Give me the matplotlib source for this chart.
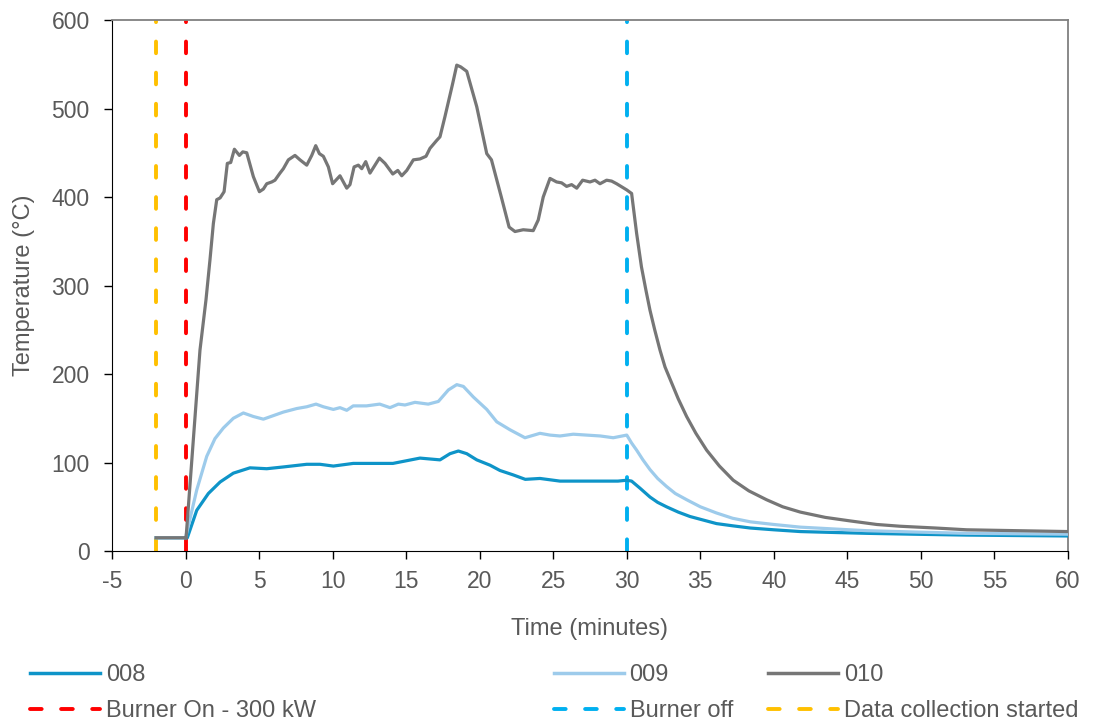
import matplotlib
matplotlib.use("Agg")
import matplotlib.pyplot as plt
from matplotlib.lines import Line2D

plt.rcParams['font.family'] = ['Liberation Sans', 'DejaVu Sans']
plt.rcParams['axes.unicode_minus'] = False

# 008 series (time in minutes, temperature in C)
t_008 = [-2, 0, 0.12, 0.76, 1.55, 2.35, 3.25, 4.38, 5.52, 6.65, 8.24, 9.14, 10.05, 11.4,
         13.45, 14.1, 15.94, 17.3, 17.98, 18.55, 19.12, 19.8, 20.7, 21.38, 22.28, 23.1,
         24.1, 25.46, 27.04, 28.2, 29.4, 30.0, 30.33, 30.9, 31.58, 32.1, 32.7, 33.5,
         34.3, 35.2, 36.1, 37.2, 38.4, 40.0, 41.8, 44.0, 46.3, 49.5, 53.1, 56.5, 60]
T_008 = [15, 15, 15, 46, 65, 78, 88, 94, 93, 95, 98, 98, 96, 99,
         99, 99, 105, 103, 110, 113, 110, 103, 97, 91, 86, 81,
         82, 79, 79, 79, 79, 80, 79, 71, 61, 55, 50, 44,
         39, 35, 31, 28.5, 26, 24, 22, 21, 20, 19, 18, 17.5, 17]

# 009 series
t_009 = [-2, 0, 0.76, 1.44, 2.0, 2.57, 3.25, 3.93, 4.61, 5.29, 5.97, 6.65, 7.56, 8.24,
         8.87, 9.37, 10.05, 10.5, 10.96, 11.4, 12.3, 13.2, 13.9, 14.47, 14.92, 15.6,
         16.5, 17.19, 17.87, 18.44, 18.89, 19.57, 20.48, 21.16, 22.06, 23.08, 24.1,
         24.78, 25.46, 26.36, 27.27, 28.2, 29.08, 30.0, 30.33, 30.67, 31.1, 31.58,
         32.1, 32.7, 33.3, 34.07, 35.0, 36.1, 37.2, 38.4, 40.0, 41.8, 44.0, 46.3,
         49.5, 53.1, 56.5, 60]
T_009 = [15, 15, 69, 107, 127, 139, 150, 156, 152, 149, 153, 157, 161, 163,
         166, 163, 160, 162, 159, 164, 164, 166, 162, 166, 165, 168,
         166, 169, 182, 188, 186, 174, 160, 146, 137, 128, 133,
         131, 130, 132, 131, 130, 128, 131, 122, 114, 103, 92,
         82, 73, 65, 58, 50, 43, 37, 33, 30, 27, 25, 23,
         21.5, 20, 19.5, 19]

# 010 series
t_010 = [-2, 0, 0.03, 0.98, 1.39, 1.66, 1.89, 2.12, 2.35, 2.62, 2.84, 3.07, 3.32, 3.66,
         3.89, 4.16, 4.61, 5.02, 5.29, 5.52, 5.86, 6.08, 6.42, 6.65, 6.99, 7.44, 7.78,
         8.24, 8.58, 8.85, 9.1, 9.37, 9.71, 10.0, 10.5, 10.96, 11.18, 11.46, 11.75,
         11.98, 12.25, 12.54, 12.88, 13.18, 13.56, 14.09, 14.43, 14.7, 15.04, 15.49,
         15.94, 16.35, 16.62, 17.08, 17.3, 17.64, 18.16, 18.44, 18.71, 19.12, 19.8,
         20.48, 20.8, 21.47, 22.0, 22.4, 22.96, 23.64, 23.98, 24.32, 24.78, 25.23,
         25.57, 25.91, 26.25, 26.6, 27.0, 27.5, 27.84, 28.18, 28.63, 28.97, 29.31,
         30.0, 30.33, 30.67, 31.0, 31.3, 31.58, 31.9, 32.26, 32.6, 33.05, 33.5, 34.07,
         34.7, 35.43, 36.3, 37.24, 38.3, 39.5, 40.6, 41.8, 43.5, 45.2, 47.0, 48.6,
         51.0, 53.1, 56.5, 60]
T_010 = [15, 15, 14, 227, 284, 329, 370, 397, 399, 406, 438, 439, 454, 447,
         451, 450, 423, 406, 409, 415, 417, 419, 427, 432, 442, 447, 442,
         436, 447, 458, 449, 446, 434, 415, 424, 410, 414, 434, 436,
         432, 440, 427, 436, 444, 438, 426, 430, 424, 430, 442,
         443, 446, 455, 464, 468, 491, 528, 549, 547, 542, 502,
         449, 442, 400, 366, 361, 363, 362, 374, 400, 421, 417,
         416, 412, 414, 410, 419, 417, 419, 415, 419, 418, 415,
         408, 404, 359, 321, 295, 272, 250, 227, 208, 190, 172, 152,
         133, 114, 96, 80, 68, 58, 50, 44, 38, 34, 30, 28,
         26, 24, 23, 22]

# event markers (minutes)
burner_on = 0
burner_off = 30
data_start = -2

c008 = '#0E94C8'
c009 = '#9DCBEB'
c010 = '#767676'
c_on = '#FF0000'
c_off = '#00B0F0'
c_start = '#FFC000'
txt = '#595959'

fig = plt.figure(figsize=(10.94, 7.22), dpi=100)
ax = fig.add_axes([0.1024, 0.2368, 0.8738, 0.7355])

dash = dict(linewidth=2.8, dashes=(3.0, 5.0), dash_capstyle='round')
ax.axvline(data_start, color=c_start, **dash)
ax.axvline(burner_on, color=c_on, **dash)
ax.axvline(burner_off, color=c_off, **dash)

ax.plot(t_008, T_008, color=c008, lw=2.3, zorder=3)
ax.plot(t_009, T_009, color=c009, lw=2.3, zorder=3)
ax.plot(t_010, T_010, color=c010, lw=2.3, zorder=4)

ax.set_xlim(-5, 60)
ax.set_ylim(0, 600)
ax.set_xticks(range(-5, 61, 5))
ax.set_yticks(range(0, 601, 100))
ax.tick_params(axis='both', labelsize=16.5, labelcolor=txt, color='black', length=6, width=1)
ax.tick_params(axis='y', pad=10)
ax.tick_params(axis='x', pad=8)
for s in ['left', 'bottom']:
    ax.spines[s].set_color('black')
for s in ['top', 'right']:
    ax.spines[s].set_color('#808080')
    ax.spines[s].set_linewidth(1.3)

ax.set_xlabel('Time (minutes)', fontsize=17, color=txt, labelpad=18)
ax.set_ylabel('Temperature (°C)', fontsize=17, color=txt, labelpad=12)

# legend: three columns placed by hand
cols = [
    ([Line2D([], [], color=c008, lw=2.5), Line2D([], [], color=c_on, **dash)], ['008', 'Burner On - 300 kW'], 0.0082),
    ([Line2D([], [], color=c009, lw=2.5), Line2D([], [], color=c_off, **dash)], ['009', 'Burner off'], 0.487),
    ([Line2D([], [], color=c010, lw=2.5), Line2D([], [], color=c_start, **dash)], ['010', 'Data collection started'], 0.683),
]
for h, l, x in cols:
    fig.legend(h, l, loc='lower left', bbox_to_anchor=(x, -0.03), frameon=False,
               fontsize=17, labelcolor=txt, handlelength=2.95, handletextpad=0.25,
               labelspacing=0.62)

fig.savefig('out.png', dpi=100)
